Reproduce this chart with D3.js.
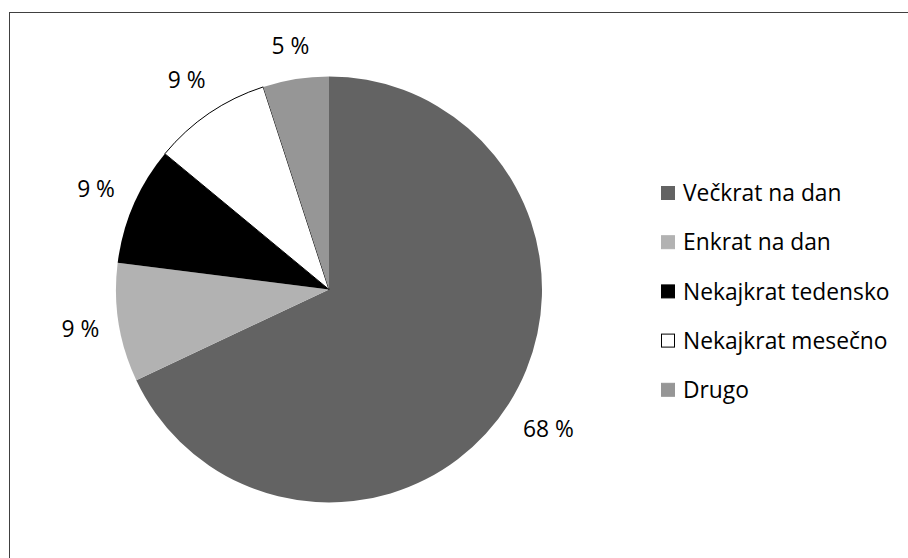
<!DOCTYPE html>
<html>
<head>
<meta charset="utf-8">
<script src="https://cdn.jsdelivr.net/npm/d3@7"></script>
<style>
  html, body { margin: 0; padding: 0; background: #fff; }
  svg { display: block; }
  text { font-family: "Open Sans", Lato, sans-serif; fill: #000; }
</style>
</head>
<body>
<svg id="chart" width="908" height="558"></svg>
<script>
// Pogostost uporabe (delež odgovorov v %)
const categories = ["Večkrat na dan", "Enkrat na dan", "Nekajkrat tedensko", "Nekajkrat mesečno", "Drugo"];
const shares = [68, 9, 9, 9, 5];
const fills = ["#636363", "#b2b2b2", "#000000", "#ffffff", "#969696"];

const data = categories.map((c, i) => ({ name: c, value: shares[i], fill: fills[i] }));

const cx = 329, cy = 289.5, R = 213;
const fontSize = 22.8;

const svg = d3.select("#chart");

// outer frame (runs past the bottom/right edge of the view)
svg.append("rect")
  .attr("x", 9.5).attr("y", 12.5)
  .attr("width", 1200).attr("height", 1200)
  .attr("fill", "none")
  .attr("stroke", "#404040")
  .attr("stroke-width", 1);

const pie = d3.pie().value(d => d.value).sort(null);
const arcs = pie(data);
const arc = d3.arc().innerRadius(0).outerRadius(R);

const g = svg.append("g").attr("transform", `translate(${cx},${cy})`);

g.selectAll("path.slice")
  .data(arcs)
  .join("path")
  .attr("class", "slice")
  .attr("d", arc)
  .attr("fill", d => d.data.fill)
  .attr("stroke", d => d.data.fill === "#ffffff" ? "#000" : "none")
  .attr("stroke-width", 1)
  .attr("stroke-linejoin", "round");

// percentage labels: the label box is pushed outward along the slice's
// mid-angle until its nearest point lies labelDist from the centre
const labelDist = 231, boxHalfH = 14;
const labels = g.selectAll("text.pct")
  .data(arcs)
  .join("text")
  .attr("class", "pct")
  .attr("font-size", fontSize)
  .attr("text-anchor", "middle")
  .text(d => `${d.data.value} %`);

function boxDist(x, y, hw, hh) {
  const dx = Math.max(Math.abs(x) - hw, 0);
  const dy = Math.max(Math.abs(y) - hh, 0);
  return Math.hypot(dx, dy);
}

labels.each(function(d) {
  const hw = this.getComputedTextLength() / 2;
  const a = (d.startAngle + d.endAngle) / 2;
  const s = Math.sin(a), c = Math.cos(a);
  let lo = R, hi = R + 200;
  for (let k = 0; k < 40; k++) {
    const t = (lo + hi) / 2;
    if (boxDist(s * t, -c * t, hw, boxHalfH) < labelDist) lo = t; else hi = t;
  }
  const t = (lo + hi) / 2;
  d3.select(this).attr("x", s * t).attr("y", -c * t + fontSize * 0.36);
});

// legend
const legendX = 661, legendY0 = 193, rowStep = 49.2, sq = 14;
const legend = svg.append("g");
const rows = legend.selectAll("g.row")
  .data(data)
  .join("g")
  .attr("class", "row")
  .attr("transform", (d, i) => `translate(${legendX},${legendY0 + i * rowStep})`);

rows.append("rect")
  .attr("x", 0.5).attr("y", -sq / 2 + 0.5)
  .attr("width", sq - 1).attr("height", sq - 1)
  .attr("fill", d => d.fill)
  .attr("stroke", d => d.fill === "#ffffff" ? "#000" : d.fill)
  .attr("stroke-width", 1);

rows.append("text")
  .attr("x", 22)
  .attr("y", fontSize * 0.36)
  .attr("font-size", fontSize)
  .text(d => d.name);
</script>
</body>
</html>
